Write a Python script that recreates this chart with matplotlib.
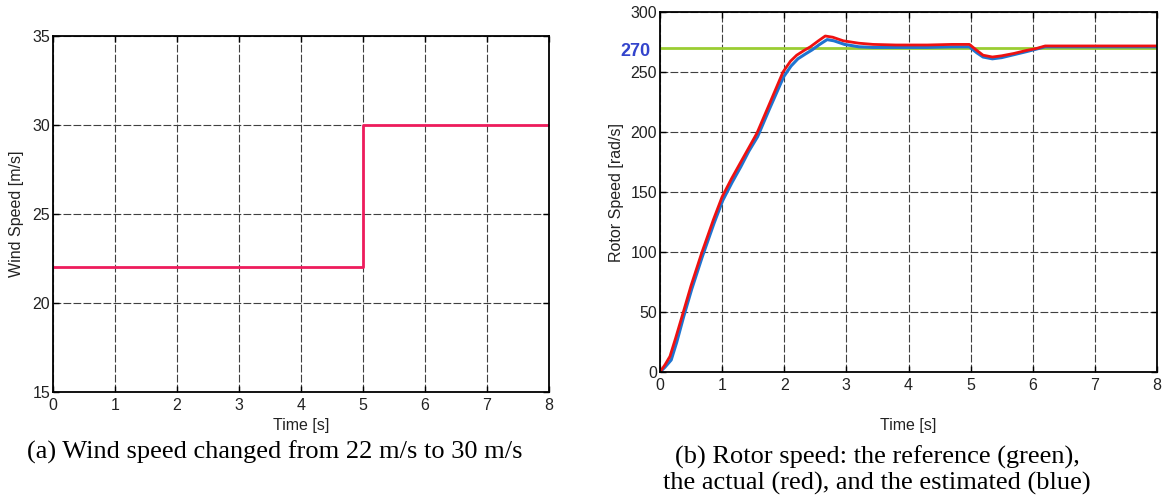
import matplotlib
matplotlib.use("Agg")
import matplotlib.pyplot as plt

# (a) wind speed step
t_vento = [0, 5, 5, 8]
vento = [22, 22, 30, 30]

# (b) rotor speed
t_ref = [0, 8]
w_ref = [270, 270]

t_real = [0, 0.08, 0.16, 0.25, 0.37, 0.5, 0.67, 0.86, 1.0, 1.15, 1.29, 1.42, 1.56, 1.75, 1.98,
          2.1, 2.2, 2.32, 2.42, 2.55, 2.66, 2.78, 2.95, 3.2, 3.43, 3.8, 4.3, 4.7, 4.98,
          5.1, 5.2, 5.35, 5.5, 5.7, 5.9, 6.05, 6.2, 7.0, 8.0]
w_real = [0, 6, 13, 28, 49, 72, 99, 127, 146, 161, 174, 186, 199, 222, 250,
          259, 264, 268, 271, 276, 280, 279, 276, 274, 273, 272.5, 272.5, 273, 273,
          268, 264, 262.5, 263.5, 265.5, 268, 269.5, 271.7, 271.7, 271.7]

t_est = [0, 0.08, 0.18, 0.27, 0.38, 0.51, 0.68, 0.87, 1.01, 1.16, 1.3, 1.43, 1.57, 1.76, 1.99,
         2.11, 2.22, 2.34, 2.45, 2.57, 2.69, 2.8, 2.97, 3.2, 3.43, 3.8, 4.3, 4.7, 4.98,
         5.1, 5.2, 5.35, 5.5, 5.7, 5.9, 6.05, 6.2, 7.0, 8.0]
w_est = [0, 4, 10, 25, 46, 69, 96, 124, 143, 158, 171, 184, 196, 219, 246,
         255, 261, 265, 268.5, 273, 277, 276, 273, 271, 270.5, 270.5, 270.5, 271, 271,
         266, 262.5, 261, 262, 264.5, 267, 269, 271, 271, 271]

ticks_x = list(range(0, 9))
ticks_vento = [15, 20, 25, 30, 35]
ticks_w = [0, 50, 100, 150, 200, 250, 300]

plt.rcParams["font.family"] = ["Liberation Sans", "DejaVu Sans"]

fig = plt.figure(figsize=(11.63, 4.95), dpi=100)
W, H = 1163.0, 495.0
serif = ["Liberation Serif", "DejaVu Serif"]


def eixo(x0, y0, x1, y1):
    ax = fig.add_axes([x0 / W, 1 - y1 / H, (x1 - x0) / W, (y1 - y0) / H])
    ax.grid(True, color="0.25", linestyle=(0, (7, 2)), linewidth=0.8)
    ax.set_axisbelow(True)
    ax.tick_params(direction="in", length=4, width=1, labelsize=11.5, top=True, right=True,
                   colors="black", labelcolor="#222222")
    ax.tick_params(axis="x", pad=4)
    ax.tick_params(axis="y", pad=2)
    for s in ax.spines.values():
        s.set_linewidth(1.3)
    return ax


# (a)
ax1 = eixo(53, 36, 549, 392)
ax1.plot(t_vento, vento, color="#ee1c5c", linewidth=2)
ax1.set_xlim(0, 8)
ax1.set_ylim(15, 35)
ax1.set_xticks(ticks_x)
ax1.set_yticks(ticks_vento)
ax1.set_xlabel("Time [s]", fontsize=11.5, labelpad=4, color="#222222")
ax1.set_ylabel("Wind Speed [m/s]", fontsize=11.5, labelpad=6, color="#222222")

# (b)
ax2 = eixo(660, 12, 1157, 372)
ax2.plot(t_ref, w_ref, color="#9acd32", linewidth=2)
ax2.plot(t_est, w_est, color="#1f74d0", linewidth=2.2)
ax2.plot(t_real, w_real, color="#ee1111", linewidth=2)
ax2.set_xlim(0, 8)
ax2.set_ylim(0, 300)
ax2.set_xticks(ticks_x)
ax2.set_yticks(ticks_w)
ax2.set_xlabel("Time [s]", fontsize=11.5, labelpad=18, color="#222222")
ax2.set_ylabel("Rotor Speed [rad/s]", fontsize=11.5, labelpad=5, color="#222222")
ax2.text(-0.145, 267, "270", color="#3344cc", fontsize=13, fontweight="bold",
         ha="right", va="center", clip_on=False)

# legendas
fig.text(275 / W, 1 - 452 / H, "(a) Wind speed changed from 22 m/s to 30 m/s",
         family=serif, fontsize=19, ha="center", va="center")
fig.text(877 / W, 1 - 457 / H, "(b) Rotor speed: the reference (green),",
         family=serif, fontsize=19, ha="center", va="center")
fig.text(877 / W, 1 - 483 / H, "the actual (red), and the estimated (blue)",
         family=serif, fontsize=19, ha="center", va="center")

fig.savefig("out.png", dpi=100)
